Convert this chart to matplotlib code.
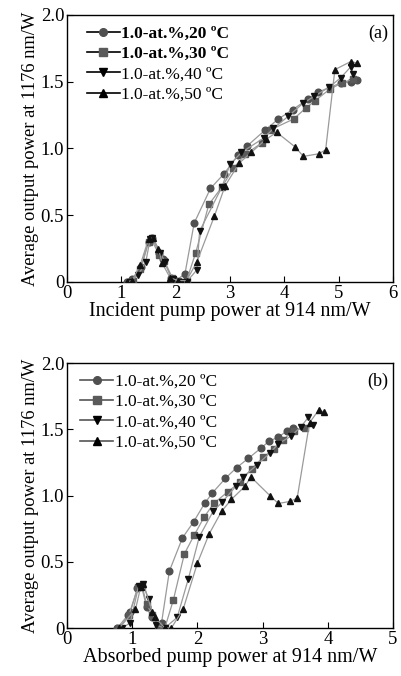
import matplotlib
matplotlib.use("Agg")
import matplotlib.pyplot as plt

plt.rcParams['font.family'] = ['Liberation Serif', 'DejaVu Serif']
plt.rcParams['mathtext.fontset'] = 'stix'

labels = ["1.0-at.%,20 ºC", "1.0-at.%,30 ºC", "1.0-at.%,40 ºC", "1.0-at.%,50 ºC"]

# Panel (a): incident pump power
a20_x = [1.1, 1.2, 1.37, 1.5, 1.56, 1.7, 1.77, 1.92, 2.0, 2.17, 2.34, 2.64, 2.89, 3.15, 3.32, 3.64, 3.89, 4.15, 4.44, 4.61, 5.04, 5.22, 5.33]
a20_y = [0.0, 0.02, 0.11, 0.30, 0.33, 0.22, 0.17, 0.03, 0.01, 0.06, 0.44, 0.70, 0.81, 0.95, 1.02, 1.135, 1.22, 1.29, 1.37, 1.42, 1.49, 1.50, 1.51]
a30_x = [1.12, 1.22, 1.35, 1.5, 1.55, 1.7, 1.78, 1.93, 2.05, 2.2, 2.37, 2.61, 2.85, 3.06, 3.28, 3.58, 3.75, 4.17, 4.39, 4.56, 4.84, 5.06, 5.27]
a30_y = [0.0, 0.01, 0.10, 0.30, 0.32, 0.20, 0.16, 0.03, 0.01, 0.01, 0.22, 0.58, 0.71, 0.85, 0.955, 1.04, 1.14, 1.22, 1.30, 1.355, 1.445, 1.49, 1.52]
a40_x = [1.15, 1.31, 1.45, 1.53, 1.57, 1.72, 1.8, 1.95, 2.1, 2.2, 2.39, 2.44, 2.85, 3.0, 3.21, 3.63, 3.8, 4.07, 4.35, 4.55, 4.83, 5.04, 5.22, 5.27]
a40_y = [0.0, 0.05, 0.15, 0.32, 0.33, 0.22, 0.15, 0.02, 0.0, 0.0, 0.09, 0.38, 0.71, 0.88, 0.97, 1.08, 1.15, 1.24, 1.34, 1.39, 1.46, 1.53, 1.61, 1.56]
a50_x = [1.1, 1.2, 1.35, 1.5, 1.58, 1.68, 1.75, 1.9, 2.05, 2.2, 2.39, 2.71, 2.91, 3.17, 3.39, 3.67, 3.86, 4.2, 4.35, 4.64, 4.76, 4.93, 5.22, 5.33]
a50_y = [0.0, 0.01, 0.13, 0.32, 0.33, 0.25, 0.14, 0.03, 0.01, 0.01, 0.15, 0.49, 0.72, 0.89, 0.97, 1.07, 1.12, 1.01, 0.94, 0.96, 0.99, 1.59, 1.65, 1.64]

# Panel (b): absorbed pump power
b20_x = [0.77, 0.94, 0.97, 1.08, 1.14, 1.22, 1.3, 1.45, 1.57, 1.77, 1.94, 2.11, 2.23, 2.43, 2.60, 2.78, 2.98, 3.10, 3.24, 3.38, 3.46]
b20_y = [0.0, 0.10, 0.12, 0.30, 0.32, 0.16, 0.08, 0.04, 0.43, 0.68, 0.80, 0.94, 1.02, 1.13, 1.21, 1.28, 1.36, 1.41, 1.44, 1.49, 1.51]
b30_x = [0.8, 0.95, 1.09, 1.15, 1.22, 1.31, 1.4, 1.5, 1.63, 1.80, 1.95, 2.10, 2.25, 2.47, 2.65, 2.83, 3.01, 3.17, 3.31, 3.48, 3.65]
b30_y = [0.0, 0.10, 0.31, 0.32, 0.18, 0.10, 0.02, 0.0, 0.21, 0.56, 0.70, 0.835, 0.94, 1.03, 1.10, 1.20, 1.29, 1.35, 1.42, 1.49, 1.51]
b40_x = [0.85, 0.97, 1.1, 1.17, 1.25, 1.37, 1.5, 1.69, 1.86, 2.03, 2.24, 2.38, 2.59, 2.70, 2.91, 3.11, 3.24, 3.44, 3.59, 3.70, 3.78]
b40_y = [0.0, 0.04, 0.32, 0.33, 0.22, 0.02, 0.0, 0.08, 0.37, 0.69, 0.88, 0.95, 1.07, 1.14, 1.23, 1.32, 1.39, 1.45, 1.52, 1.59, 1.53]
b50_x = [0.8, 1.05, 1.13, 1.17, 1.31, 1.35, 1.5, 1.6, 1.78, 2.0, 2.18, 2.37, 2.52, 2.73, 2.82, 3.11, 3.24, 3.42, 3.53, 3.72, 3.86, 3.94]
b50_y = [0.0, 0.14, 0.31, 0.33, 0.12, 0.08, 0.0, 0.0, 0.14, 0.49, 0.71, 0.88, 0.97, 1.07, 1.14, 1.0, 0.94, 0.955, 0.98, 1.55, 1.645, 1.63]

markers = ['o', 's', 'v', '^']
mcolors = ['#505050', '#5a5a5a', '#111111', '#111111']
lcolor = '#9a9a9a'

fig = plt.figure(figsize=(4.02, 6.76), dpi=100)
ax1 = fig.add_axes([0.1667, 0.583, 0.811, 0.395])
ax2 = fig.add_axes([0.1667, 0.071, 0.811, 0.392])

def draw(ax, xs, ys, xmax, xlabel, tag, bold_first):
    for i, (x, y) in enumerate(zip(xs, ys)):
        ax.plot(x, y, color=lcolor, lw=0.9, marker=markers[i], ms=4.8,
                mfc=mcolors[i], mec=mcolors[i], zorder=3)
    ax.set_xlim(0, xmax)
    ax.set_ylim(0, 2.0)
    ax.set_xticks(range(0, xmax + 1))
    ax.set_yticks([0, 0.5, 1.0, 1.5, 2.0])
    ax.set_yticklabels(['0', '0.5', '1.0', '1.5', '2.0'])
    ax.tick_params(direction='in', length=4, width=0.8, labelsize=13.5, pad=2)
    for s in ax.spines.values():
        s.set_linewidth(1.0)
    ax.set_xlabel(xlabel, fontsize=14.5, labelpad=0)
    ax.set_ylabel('Average output power at 1176 nm/W', fontsize=13.3, labelpad=1)
    ax.text(0.985, 0.965, tag, transform=ax.transAxes, ha='right', va='top', fontsize=13)
    handles = []
    for i in range(4):
        lc = 'black' if bold_first else '#555555'
        h, = ax.plot([], [], color=lc, lw=1.2, marker=markers[i], ms=5.5,
                     mfc='black' if i >= 2 else mcolors[i], mec='black' if i >= 2 else mcolors[i])
        handles.append(h)
    leg = ax.legend(handles, labels, loc='upper left', frameon=False, fontsize=12.5,
                    handlelength=1.9, handletextpad=0.1,
                    bbox_to_anchor=(0.06 if bold_first else 0.04, 0.96),
                    borderaxespad=0.0, labelspacing=0.24, borderpad=0.0)
    if bold_first:
        for t in leg.get_texts()[:2]:
            t.set_fontweight('bold')

draw(ax1, [a20_x, a30_x, a40_x, a50_x], [a20_y, a30_y, a40_y, a50_y], 6,
     'Incident pump power at 914 nm/W', '(a)', True)
draw(ax2, [b20_x, b30_x, b40_x, b50_x], [b20_y, b30_y, b40_y, b50_y], 5,
     'Absorbed pump power at 914 nm/W', '(b)', False)

fig.savefig('out.png', dpi=100)
